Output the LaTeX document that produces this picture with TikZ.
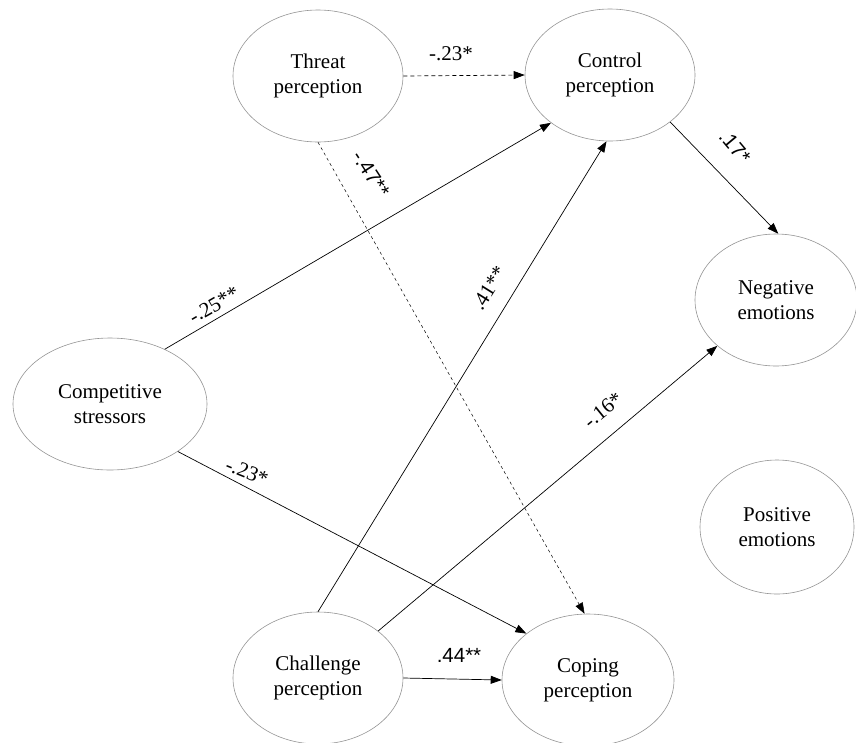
\documentclass[tikz,border=0pt]{standalone}
\usepackage{fontspec}
\setmainfont{Liberation Serif}
\newfontfamily\arialf{Liberation Sans}
\usetikzlibrary{shapes.geometric,arrows.meta}
\begin{document}
\begin{tikzpicture}[x=1pt,y=-1pt,
  ell/.style={ellipse, draw=black!42, line width=0.6pt, inner sep=0pt, align=center,
    font=\fontsize{21}{25}\selectfont},
  arr/.style={-{Triangle[length=11pt,width=8pt]}, line width=0.7pt},
  dashA/.style={dash pattern=on 4pt off 3pt},
  dashB/.style={dash pattern=on 3pt off 3pt, line width=0.5pt},
  lbl/.style={font=\fontsize{21}{25}\selectfont, inner sep=0pt},
  lbls/.style={font=\arialf\fontsize{20.5}{24}\selectfont, inner sep=0pt}]
\useasboundingbox (0,0) rectangle (856,742);
\node[ell, minimum width=170pt, minimum height=132pt] (threat) at (318,76) {Threat\\perception};
\node[ell, minimum width=170pt, minimum height=132pt] (control) at (610,75) {Control\\perception};
\node[ell, minimum width=162pt, minimum height=132pt] (neg) at (776,300) {Negative\\emotions};
\node[ell, minimum width=154pt, minimum height=134pt] (pos) at (777,527) {Positive\\emotions};
\node[ell, minimum width=194pt, minimum height=132pt] (comp) at (110,404) {Competitive\\stressors};
\node[ell, minimum width=170pt, minimum height=132pt] (chall) at (318,678) {Challenge\\perception};
\node[ell, minimum width=172pt, minimum height=132pt] (coping) at (588,680) {Coping\\perception};

\draw[arr, dashA] (threat.0) -- (control.180);
\draw[arr, dashB] (threat.-90) -- (coping.93);
\draw[arr] (comp.45) -- (control.219);
\draw[arr] (comp.-35) -- (coping.143);
\draw[arr] (chall.90) -- (control.-93);
\draw[arr] (chall.38) -- (neg.218);
\draw[arr] (chall.0) -- (coping.180);
\draw[arr] (control.-38) -- (neg.88);

\node[lbl] (l1) at (451,54) {-.23*};
\node[lbls, rotate=-57] (l2) at (371,174) {-.47**};
\node[lbl, rotate=30] (l3) at (214,305) {-.25**};
\node[lbl, rotate=-22] (l4) at (247,472) {-.23*};
\node[lbl, rotate=58] (l5) at (489,288) {.41**};
\node[lbl, rotate=39] (l6) at (603,410) {-.16*};
\node[lbls] (l7) at (459,655) {.44**};
\node[lbls, rotate=-50] (l8) at (735,147) {.17*};
\end{tikzpicture}
\end{document}
